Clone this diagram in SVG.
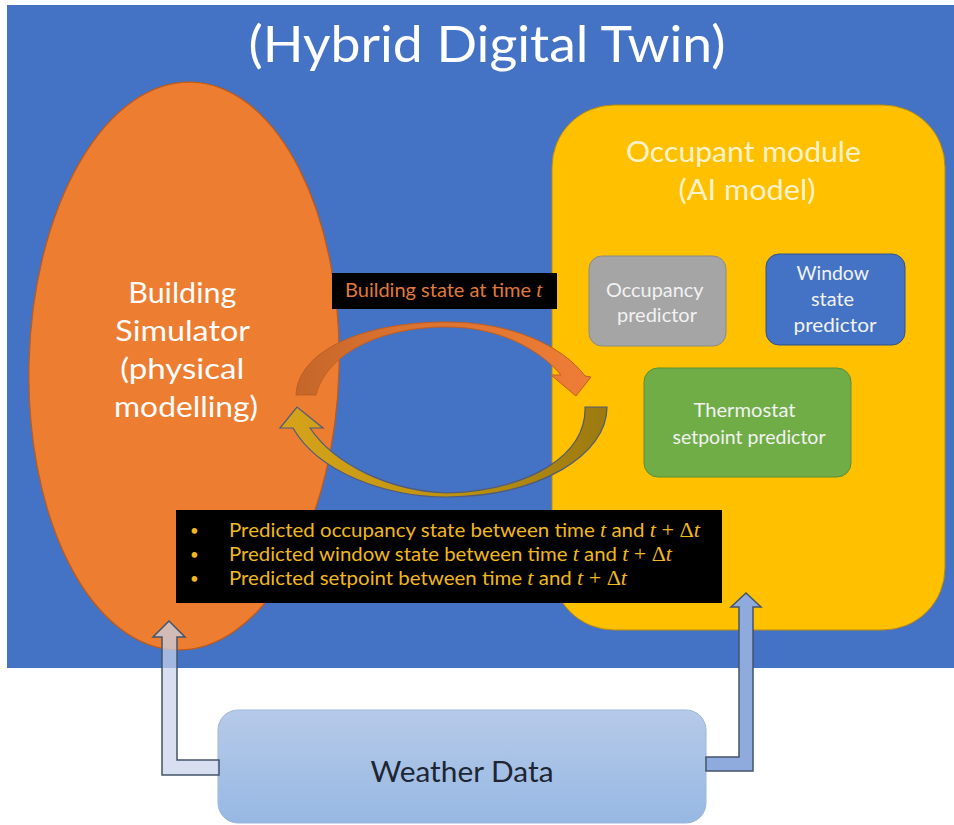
<svg xmlns="http://www.w3.org/2000/svg" width="954" height="825" viewBox="0 0 954 825">
  <defs>
    <style>
      .t { font-family: Lato, "Open Sans", "Liberation Sans", sans-serif; text-anchor: middle; }
      .w { fill: #FFFFFF; }
      .cream { fill: #FFF2CC; }
      .pale { fill: #F2F2F2; }
      .bul { font-family: Lato, "Liberation Sans", sans-serif; font-size: 18.5px; fill: #F0B81C; }
      .dot { font-size: 15px; }
      .m { font-family: "Liberation Serif", "DejaVu Serif", serif; font-style: italic; font-size: 20px; }
      .mr { font-family: "Liberation Serif", "DejaVu Serif", serif; font-size: 20px; }
      .blk { fill: #000000; }
      .flow { stroke: #44546A; stroke-width: 1.5; stroke-linejoin: miter; }
    </style>
    <linearGradient id="gOrangeArc" x1="296" y1="0" x2="590" y2="0" gradientUnits="userSpaceOnUse">
      <stop offset="0" stop-color="#C4662A"/>
      <stop offset="0.3" stop-color="#D8712F"/>
      <stop offset="1" stop-color="#EE7D36"/>
    </linearGradient>
    <linearGradient id="gGoldArc" x1="280" y1="0" x2="607" y2="0" gradientUnits="userSpaceOnUse">
      <stop offset="0" stop-color="#D6A41B"/>
      <stop offset="0.5" stop-color="#C0930F"/>
      <stop offset="1" stop-color="#9C7A10"/>
    </linearGradient>
    <linearGradient id="gWeather" x1="0" y1="0" x2="0" y2="1">
      <stop offset="0" stop-color="#B6CAE9"/>
      <stop offset="1" stop-color="#97B8E3"/>
    </linearGradient>
  </defs>

  <rect x="0" y="0" width="954" height="825" fill="#FFFFFF"/>

  <!-- digital twin frame -->
  <g id="twin-frame">
    <rect x="7" y="5" width="947" height="663" fill="#4472C4"/>
    <text class="t w" x="487" y="62" font-size="51" textLength="477" lengthAdjust="spacingAndGlyphs">(Hybrid Digital Twin)</text>
  </g>

  <!-- physical model -->
  <g id="building-simulator">
    <ellipse cx="184" cy="366" rx="155" ry="284" transform="rotate(1.5 184 366)" fill="#ED7D31" stroke="#C55A11" stroke-width="1.2"/>
    <text class="t w" font-size="29">
      <tspan x="186" y="303" textLength="108" lengthAdjust="spacingAndGlyphs">Building</tspan>
      <tspan x="186" y="341" textLength="134" lengthAdjust="spacingAndGlyphs">Simulator</tspan>
      <tspan x="186" y="379" textLength="124" lengthAdjust="spacingAndGlyphs">(physical</tspan>
      <tspan x="186" y="417" textLength="144" lengthAdjust="spacingAndGlyphs">modelling)</tspan>
    </text>
  </g>

  <!-- AI model -->
  <g id="occupant-module">
    <rect x="552" y="105" width="393" height="525" rx="62" ry="62" fill="#FFC000" stroke="#B78A10" stroke-width="1"/>
    <text class="t cream" font-size="28">
      <tspan x="747" y="162" textLength="235" lengthAdjust="spacingAndGlyphs">Occupant module</tspan>
      <tspan x="747" y="200" textLength="137" lengthAdjust="spacingAndGlyphs">(AI model)</tspan>
    </text>
  </g>

  <g id="occupancy-predictor">
    <rect x="589" y="256" width="137" height="90" rx="13" fill="#A5A5A5" stroke="#8A8A8A" stroke-width="1"/>
    <text class="t pale" font-size="19.5">
      <tspan x="657" y="297" textLength="97" lengthAdjust="spacingAndGlyphs">Occupancy</tspan>
      <tspan x="657" y="322" textLength="80" lengthAdjust="spacingAndGlyphs">predictor</tspan>
    </text>
  </g>

  <g id="window-predictor">
    <rect x="766" y="254" width="139" height="91" rx="13" fill="#4472C4" stroke="#2F528F" stroke-width="1"/>
    <text class="t pale" font-size="19.5">
      <tspan x="835" y="280" textLength="72" lengthAdjust="spacingAndGlyphs">Window</tspan>
      <tspan x="835" y="306" textLength="43" lengthAdjust="spacingAndGlyphs">state</tspan>
      <tspan x="835" y="332" textLength="83" lengthAdjust="spacingAndGlyphs">predictor</tspan>
    </text>
  </g>

  <g id="thermostat-predictor">
    <rect x="644" y="368" width="207" height="109" rx="14" fill="#70AD47" stroke="#5A8F37" stroke-width="1"/>
    <text class="t pale" font-size="19.5">
      <tspan x="747" y="417" textLength="102" lengthAdjust="spacingAndGlyphs">Thermostat</tspan>
      <tspan x="749" y="444" textLength="153" lengthAdjust="spacingAndGlyphs">setpoint predictor</tspan>
    </text>
  </g>

  <g id="weather-data">
    <rect x="218" y="710" width="488" height="113" rx="20" fill="url(#gWeather)" stroke="#9DB6DD" stroke-width="1"/>
    <text class="t" x="462" y="782" font-size="29" fill="#1E2633" textLength="183" lengthAdjust="spacingAndGlyphs">Weather Data</text>
  </g>

  <!-- connectors -->
  <g id="connectors">
    <!-- state exchange loop -->
    <path d="M296,395 C298,352 360,322 447,322 C510,322 562,345 585,376 L591,377 L576,396 L551,375 L561,375 C540,350 500,327 447,327 C378,327 326,355 316,395 Z" fill="url(#gOrangeArc)" stroke="#C05E22" stroke-width="1"/>
    <path d="M585,407 L607,407 C607,455 540,496 447,497 C385,497 318,472 293,428 L280,428 L297,407 L323,428 L310,428 C335,465 390,491 447,493 C530,490 587,455 585,407 Z" fill="url(#gGoldArc)" stroke="#4E5A7A" stroke-width="1.2"/>

    <!-- weather feeds -->
    <path class="flow" d="M219,760 L177,760 L177,637 L185,637 L169,621 L153,637 L162,637 L162,775 L219,775 Z" fill="#C8D3EA" fill-opacity="0.72"/>
    <path class="flow" d="M706,757 L739,757 L739,607 L731,607 L746,593 L761,607 L753,607 L753,771 L706,771 Z" fill="#8FAADC"/>
  </g>

  <!-- exchanged quantities -->
  <g id="state-label">
    <rect x="332" y="273" width="225" height="36" class="blk"/>
    <text x="345" y="297" font-family="Lato, 'Liberation Sans', sans-serif" font-size="19" fill="#E07A3C" textLength="197" lengthAdjust="spacingAndGlyphs">Building state at time <tspan class="m">t</tspan></text>
  </g>

  <g id="prediction-label">
    <rect x="176" y="510" width="546" height="93" class="blk"/>
    <g class="bul">
      <text class="dot" x="190" y="536">•</text>
      <text class="dot" x="190" y="560">•</text>
      <text class="dot" x="190" y="584">•</text>
      <text x="229" y="537" textLength="471" lengthAdjust="spacingAndGlyphs">Predicted occupancy state between  time <tspan class="m">t</tspan> and <tspan class="m">t</tspan><tspan class="mr"> + Δ</tspan><tspan class="m">t</tspan></text>
      <text x="229" y="561" textLength="443" lengthAdjust="spacingAndGlyphs">Predicted window state between time <tspan class="m">t</tspan> and <tspan class="m">t</tspan><tspan class="mr"> + Δ</tspan><tspan class="m">t</tspan></text>
      <text x="229" y="585" textLength="398" lengthAdjust="spacingAndGlyphs">Predicted setpoint between time <tspan class="m">t</tspan> and <tspan class="m">t</tspan><tspan class="mr"> + Δ</tspan><tspan class="m">t</tspan></text>
    </g>
  </g>
</svg>
